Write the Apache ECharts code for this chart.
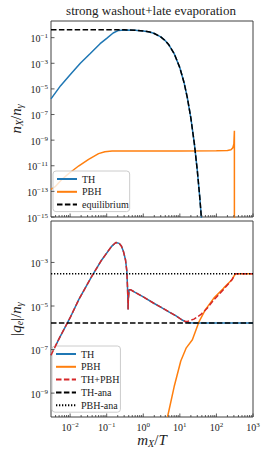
<!DOCTYPE html>
<html><head><meta charset="utf-8">
<script src="https://cdn.jsdelivr.net/npm/echarts@6/dist/echarts.min.js"></script>
<style>html,body{margin:0;padding:0;background:#fff}#c{width:266px;height:452px}</style>
</head><body><div id="c"></div>
<script>
// ---------- data ----------
const thTopX = [0.003, 0.0055, 0.01, 0.019, 0.035, 0.066, 0.1, 0.15, 0.21, 0.3, 0.6, 1, 1.5, 2, 3, 4, 5, 7, 10, 13, 16, 20, 25, 30, 35, 40];
const thTopY = [1.66e-6, 1.8e-5, 1.26e-4, 1.0e-3, 5.6e-3, 3.4e-2, 8.9e-2, 0.23, 0.37, 0.405, 0.383, 0.338, 0.273, 0.211, 0.115, 0.058, 0.0276, 5.7e-3, 4.5e-4, 3.2e-5, 2.1e-6, 5.3e-8, 4.9e-10, 4.3e-12, 3.6e-14, 2.9e-16];
const pbhTopX = [0.003, 0.004, 0.006, 0.0092, 0.0174, 0.032, 0.06, 0.089, 0.14, 1, 10, 100, 200, 250, 280, 300, 310, 310.3];
const pbhTopY = [1.45e-13, 2.5e-13, 8.7e-13, 2.5e-12, 1.0e-11, 3.2e-11, 8.9e-11, 1.26e-10, 1.45e-10, 1.45e-10, 1.45e-10, 1.48e-10, 1.55e-10, 1.8e-10, 2.5e-10, 5e-10, 5.4e-9, 1e-20];
const eqX = [0.003, 0.1, 0.3, 0.6, 1, 1.5, 2, 3, 4, 5, 7, 10, 13, 16, 20, 25, 30, 35, 40];
const eqY = [0.416, 0.415, 0.407, 0.383, 0.338, 0.273, 0.211, 0.115, 0.058, 0.0276, 5.7e-3, 4.5e-4, 3.2e-5, 2.1e-6, 5.3e-8, 4.9e-10, 4.3e-12, 3.6e-14, 2.9e-16];

const thBotX = [0.003, 0.005, 0.01, 0.0172, 0.039, 0.073, 0.136, 0.178, 0.22, 0.254, 0.29, 0.327, 0.355, 0.37, 0.38, 0.385, 0.39, 0.41, 0.445, 0.6, 1, 2, 3.16, 5, 7.9, 11, 14, 18, 25, 100, 1000];
const thBotY = [5.5e-8, 3.2e-7, 2.9e-6, 1.95e-5, 2.3e-4, 1.3e-3, 5.5e-3, 8.3e-3, 7.5e-3, 5.5e-3, 3.0e-3, 1.3e-3, 4e-4, 7.9e-5, 2e-5, 7e-6, 2e-5, 5.6e-5, 5.6e-5, 4.2e-5, 2.6e-5, 1.3e-5, 8.5e-6, 5.4e-6, 3.5e-6, 2.4e-6, 1.9e-6, 1.7e-6, 1.66e-6, 1.66e-6, 1.66e-6];
const pbhBotX = [4.6, 7, 10.6, 15, 22, 33, 50, 85, 157, 265, 327, 1000];
const pbhBotY = [8e-11, 2e-9, 3e-8, 1.2e-7, 2.8e-7, 1.8e-6, 6.8e-6, 2.3e-5, 6.6e-5, 1.6e-4, 3.0e-4, 3.0e-4];
const sumX = [0.003, 0.005, 0.01, 0.0172, 0.039, 0.073, 0.136, 0.178, 0.22, 0.254, 0.29, 0.327, 0.355, 0.37, 0.38, 0.385, 0.39, 0.41, 0.445, 0.6, 1, 2, 3.16, 5, 7.9, 11, 14, 16.1, 24.3, 37, 56, 84.5, 157, 265, 327, 1000];
const sumY = [5.5e-8, 3.2e-7, 2.9e-6, 1.95e-5, 2.3e-4, 1.3e-3, 5.5e-3, 8.3e-3, 7.5e-3, 5.5e-3, 3.0e-3, 1.3e-3, 4e-4, 7.9e-5, 2e-5, 7e-6, 2e-5, 5.6e-5, 5.6e-5, 4.2e-5, 2.6e-5, 1.3e-5, 8.5e-6, 5.4e-6, 3.5e-6, 2.4e-6, 1.95e-6, 1.95e-6, 2.5e-6, 4.0e-6, 7.9e-6, 1.9e-5, 5.8e-5, 1.6e-4, 3.0e-4, 3.0e-4];
const thAnaX = [0.003, 1000];
const thAnaY = [1.66e-6, 1.66e-6];
const pbhAnaX = [0.003, 1000];
const pbhAnaY = [3.0e-4, 3.0e-4];

const xMajorTicks = [0.01, 0.1, 1, 10, 100, 1000];
const topYTicks = [1e-15, 1e-13, 1e-11, 1e-9, 1e-7, 1e-5, 1e-3, 1e-1];
const botYTicks = [1e-9, 1e-7, 1e-5, 1e-3];
const xMinorTicks = [];
[0.001, 0.01, 0.1, 1, 10, 100].forEach(function (d) { for (let k = 2; k <= 9; k++) { const v = +(k * d).toPrecision(3); if (v > 0.003 && v < 1000) xMinorTicks.push(v); } });

// ---------- styling ----------
const FONT = "'Liberation Serif','DejaVu Serif',serif";
const TXT = '#222';
const BLUE = '#1f77b4', ORANGE = '#ff7f0e', RED = '#d62728';
const X_MIN = 0.003, X_MAX = 1000;
const TOP_MIN = 1e-15, TOP_MAX = 2;
const BOT_MIN = 8e-11, BOT_MAX = 0.08;
const DASH = [5.5, 2.4];

function zip(xs, ys) { return xs.map(function (x, i) { return [x, ys[i]]; }); }
function supLabel(v) {
  const e = Math.round(Math.log10(v));
  return '10{s|' + (e < 0 ? '\u2212' + (-e) : String(e)) + '}';
}
const supRich = { s: { fontSize: 7, fontFamily: FONT, color: TXT, fill: TXT, padding: [0, 0, 5, 0] } };

function line(name, idx, xs, ys, color, width, type, z) {
  return {
    name: name, type: 'line', xAxisIndex: idx, yAxisIndex: idx, data: zip(xs, ys),
    symbol: 'none', showSymbol: false, clip: true, z: z || 2,
    lineStyle: { color: color, width: width, type: type || 'solid' },
    itemStyle: { color: color }
  };
}
function xTicks(idx, yref) {
  const d = xMajorTicks.map(function (v) { return [v, yref, 1]; })
    .concat(xMinorTicks.map(function (v) { return [v, yref, 0]; }));
  return {
    type: 'custom', xAxisIndex: idx, yAxisIndex: idx, silent: true, z: 10, data: d,
    renderItem: function (params, api) {
      const cs = params.coordSys;
      const p = api.coord([api.value(0), api.value(1)]);
      const L = api.value(2) ? 3.5 : 2;
      const yb = cs.y + cs.height;
      return { type: 'line', shape: { x1: p[0], y1: yb, x2: p[0], y2: yb - L }, style: { stroke: '#333', lineWidth: 0.8 } };
    }
  };
}
function yTicks(idx, ticks) {
  return {
    type: 'custom', xAxisIndex: idx, yAxisIndex: idx, silent: true, z: 10,
    data: ticks.map(function (v) { return [X_MIN, v]; }),
    renderItem: function (params, api) {
      const cs = params.coordSys;
      const p = api.coord([api.value(0), api.value(1)]);
      return {
        type: 'group', children: [
          { type: 'line', shape: { x1: cs.x, y1: p[1], x2: cs.x + 3.5, y2: p[1] }, style: { stroke: '#333', lineWidth: 0.8 } },
          { type: 'text', x: cs.x - 3, y: p[1] + 1, style: { text: supLabel(api.value(1)), align: 'right', verticalAlign: 'middle', fontSize: 10, fontFamily: FONT, fill: TXT, rich: supRich } }
        ]
      };
    }
  };
}
const nameRich = {
  i: { fontStyle: 'italic', fontSize: 15, fontFamily: FONT, color: TXT },
  r: { fontSize: 15, fontFamily: FONT, color: TXT },
  sub: { fontStyle: 'italic', fontSize: 10, fontFamily: FONT, color: TXT, padding: [7, 0, 0, 0] }
};
function yAxis(min, max, name) {
  return {
    type: 'log', logBase: 10, min: min, max: max, name: name, nameLocation: 'middle', nameGap: 27,
    nameTextStyle: { fontFamily: FONT, fontSize: 15, color: TXT, rich: nameRich },
    axisLine: { show: false }, axisTick: { show: false }, axisLabel: { show: false }, splitLine: { show: false }
  };
}
const legendBase = {
  orient: 'vertical', backgroundColor: 'rgba(255,255,255,0.8)', borderColor: '#cccccc', borderWidth: 1,
  borderRadius: 3, itemWidth: 20, itemHeight: 8, itemGap: 0.8, padding: [2, 1, 1, 3],
  itemStyle: { opacity: 0, color: 'transparent', borderColor: 'transparent', borderWidth: 0 },
  textStyle: { fontFamily: FONT, fontSize: 10, color: TXT, lineHeight: 12 }, selectedMode: false
};

const option = {
  animation: false,
  backgroundColor: '#fff',
  title: { text: 'strong washout+late evaporation', left: 151, textAlign: 'center', top: 4, padding: 0,
    textStyle: { fontFamily: FONT, fontSize: 13, fontWeight: 'normal', color: TXT } },
  grid: [
    { left: 49, top: 21, width: 204, height: 196, show: true, borderColor: '#404040', borderWidth: 1, backgroundColor: 'transparent' },
    { left: 49, top: 221, width: 204, height: 196, show: true, borderColor: '#404040', borderWidth: 1, backgroundColor: 'transparent' }
  ],
  xAxis: [
    { type: 'log', logBase: 10, gridIndex: 0, min: X_MIN, max: X_MAX, axisLine: { show: false }, axisTick: { show: false }, axisLabel: { show: false }, splitLine: { show: false } },
    { type: 'log', logBase: 10, gridIndex: 1, min: X_MIN, max: X_MAX, axisLine: { show: false }, axisTick: { show: false }, splitLine: { show: false },
      axisLabel: { margin: 4, fontFamily: FONT, fontSize: 10, color: TXT, rich: supRich,
        formatter: function (v) { const e = Math.log10(v); if (Math.abs(e - Math.round(e)) > 1e-6) return ''; return supLabel(v); } },
      name: '{i|m}{sub|X}{r|/}{i|T}', nameLocation: 'middle', nameGap: 14,
      nameTextStyle: { fontFamily: FONT, fontSize: 15, color: TXT, rich: nameRich } }
  ],
  yAxis: [
    Object.assign(yAxis(TOP_MIN, TOP_MAX, '{i|n}{sub|X}{r|/}{i|n}{sub|γ}'), { gridIndex: 0 }),
    Object.assign(yAxis(BOT_MIN, BOT_MAX, '{r||}{i|q}{sub|e}{r||/}{i|n}{sub|γ}'), { gridIndex: 1 })
  ],
  legend: [
    Object.assign({}, legendBase, { data: ['TH', 'PBH', 'equilibrium'], left: 53, top: 171 }),
    Object.assign({}, legendBase, { data: ['TH', 'PBH', 'TH+PBH', 'TH-ana', 'PBH-ana'], left: 52, top: 346 })
  ],
  series: [
    line('TH', 0, thTopX, thTopY, BLUE, 1.5, 'solid', 2),
    line('PBH', 0, pbhTopX, pbhTopY, ORANGE, 1.5, 'solid', 3),
    line('equilibrium', 0, eqX, eqY, '#000', 1.5, DASH, 4),
    line('TH', 1, thBotX, thBotY, BLUE, 1.5, 'solid', 2),
    line('PBH', 1, pbhBotX, pbhBotY, ORANGE, 1.5, 'solid', 3),
    line('TH+PBH', 1, sumX, sumY, RED, 1.5, DASH, 4),
    line('TH-ana', 1, thAnaX, thAnaY, '#000', 1.5, DASH, 5),
    line('PBH-ana', 1, pbhAnaX, pbhAnaY, '#000', 1.5, [1.3, 1.7], 5),
    xTicks(0, TOP_MIN), xTicks(1, BOT_MIN),
    yTicks(0, topYTicks), yTicks(1, botYTicks)
  ]
};
const chart = echarts.init(document.getElementById('c'), null, { renderer: 'svg', width: 266, height: 452 });
chart.setOption(option);
</script></body></html>
